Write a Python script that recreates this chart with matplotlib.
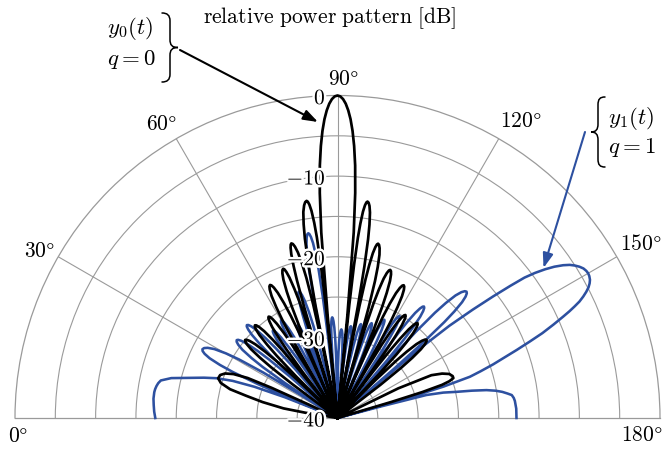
import numpy as np
import matplotlib
matplotlib.use("Agg")
import matplotlib.pyplot as plt
import matplotlib.patheffects as pe
from matplotlib.path import Path
from matplotlib.patches import PathPatch

plt.rcParams['mathtext.fontset'] = 'cm'
plt.rcParams['font.family'] = ['DejaVu Serif']

# ---------------- data ----------------
# y0(t), q = 0 : angle [deg], relative power [dB]
black_theta = [0, 8.5,
    9.3, 10.1, 12.0, 13.7, 15.0, 16.7, 18.4, 20.1, 21.6, 22.9, 24.0, 24.6, 25.0, 25.2,
    36.0, 36.84, 37.39, 37.89, 38.52, 39.15, 39.70, 40.2, 40.70, 41.25, 41.88, 42.51, 43.01, 43.56, 44.4,
    45.18, 45.69, 46.16, 46.74, 47.33, 47.83, 48.3, 48.76, 49.25, 49.82, 50.39, 50.85, 51.34, 52.1,
    52.84, 53.32, 53.77, 54.32, 54.88, 55.36, 55.8, 56.23, 56.7, 57.24, 57.78, 58.21, 58.68, 59.4,
    59.77, 60.14, 60.62, 61.07, 61.62, 62.18, 62.66, 63.1, 63.52, 63.98, 64.5, 65.03, 65.45, 65.9, 66.25, 66.6,
    66.94, 67.28, 67.72, 68.13, 68.64, 69.15, 69.59, 70.0, 70.34, 70.7, 71.12, 71.54, 71.88, 72.24, 72.52, 72.8,
    73.04, 73.28, 73.59, 73.88, 74.24, 74.6, 74.91, 75.2, 75.61, 76.05, 76.56, 77.07, 77.48, 77.92, 78.26, 78.6,
    78.93, 79.26, 79.69, 80.09, 80.58, 81.08, 81.5, 81.9, 82.18, 82.49, 82.84, 83.2, 83.48, 83.79, 84.02, 84.26,
    84.5, 85.0, 85.5, 86.0, 86.5, 87.0, 87.5, 88.0, 88.5, 89.0, 89.5, 90.0,
    90.5, 91.0, 91.5, 92.0, 92.5, 93.0, 93.5, 94.0, 94.5, 95.0, 95.5, 95.74,
    95.96, 96.17, 96.45, 96.71, 97.04, 97.36, 97.64, 97.9, 98.22, 98.58, 98.98, 99.39, 99.71, 100.06, 100.33, 100.6,
    100.85, 101.1, 101.43, 101.73, 102.1, 102.48, 102.8, 103.1, 103.5, 103.93, 104.42, 104.92, 105.31, 105.74, 106.07, 106.4,
    106.72, 107.04, 107.46, 107.84, 108.32, 108.8, 109.22, 109.6, 110.01, 110.45, 110.96, 111.47, 111.88, 112.32, 112.66, 113.0,
    113.35, 113.7, 114.16, 114.58, 115.1, 115.63, 116.08, 116.5, 116.92, 117.38, 117.9, 118.43, 118.85, 119.3, 119.65, 120.0,
    120.68, 121.12, 121.53, 122.04, 122.55, 122.99, 123.4, 123.81, 124.25, 124.76, 125.27, 125.68, 126.12, 126.8,
    127.46, 127.89, 128.29, 128.78, 129.28, 129.7, 130.1, 130.59, 131.13, 131.74, 132.36, 132.85, 133.38, 134.2,
    135.1, 135.69, 136.23, 136.9, 137.58, 138.16, 138.7, 139.24, 139.83, 140.5, 141.18, 141.72, 142.3, 143.2,
    153.3, 154.0, 155.5, 157.0, 158.5, 160.0, 161.0, 161.8, 162.4, 163.0, 163.4, 163.7,
    180.0]
black_db = [-40, -40,
    -36.0, -33.2, -30.5, -28.3, -26.2, -24.9, -24.4, -24.5, -25.0, -26.0, -27.8, -31.0, -36.0, -40,
    -40, -33.0, -29.6, -27.8, -26.3, -25.5, -25.12, -25.0, -25.12, -25.5, -26.3, -27.8, -29.6, -33.0, -40,
    -32.6, -29.2, -27.4, -25.9, -25.1, -24.72, -24.6, -24.72, -25.1, -25.9, -27.4, -29.2, -32.6, -40,
    -32.8, -29.4, -27.6, -26.1, -25.3, -24.92, -24.8, -24.92, -25.3, -26.1, -27.6, -29.4, -32.8, -40,
    -34.5, -29.5, -26.1, -24.3, -22.8, -22.0, -21.62, -21.5, -21.62, -22.0, -22.8, -24.3, -26.1, -29.5, -34.5, -40,
    -33.3, -28.3, -24.9, -23.1, -21.6, -20.8, -20.42, -20.3, -20.42, -20.8, -21.6, -23.1, -24.9, -28.3, -33.3, -40,
    -30.6, -25.6, -22.2, -20.4, -18.9, -18.1, -17.72, -17.6, -17.72, -18.1, -18.9, -20.4, -22.2, -25.6, -30.6, -40,
    -25.8, -20.8, -17.4, -15.6, -14.1, -13.3, -12.92, -12.8, -12.92, -13.3, -14.1, -15.6, -17.4, -20.8, -25.8, -40,
    -27.3, -16.9, -12.0, -8.6, -6.2, -4.34, -2.9, -1.82, -1.0, -0.44, -0.11, 0.0,
    -0.11, -0.44, -1.0, -1.82, -2.9, -4.34, -6.2, -8.6, -12.0, -16.9, -27.3, -40,
    -25.9, -20.9, -17.5, -15.7, -14.2, -13.4, -13.02, -12.9, -13.02, -13.4, -14.2, -15.7, -17.5, -20.9, -25.9, -40,
    -30.8, -25.8, -22.4, -20.6, -19.1, -18.3, -17.92, -17.8, -17.92, -18.3, -19.1, -20.6, -22.4, -25.8, -30.8, -40,
    -33.5, -28.5, -25.1, -23.3, -21.8, -21.0, -20.62, -20.5, -20.62, -21.0, -21.8, -23.3, -25.1, -28.5, -33.5, -40,
    -34.6, -29.6, -26.2, -24.4, -22.9, -22.1, -21.72, -21.6, -21.72, -22.1, -22.9, -24.4, -26.2, -29.6, -34.6, -40,
    -32.7, -29.3, -27.5, -26.0, -25.2, -24.82, -24.7, -24.82, -25.2, -26.0, -27.5, -29.3, -32.7, -40,
    -32.6, -29.2, -27.4, -25.9, -25.1, -24.72, -24.6, -24.72, -25.1, -25.9, -27.4, -29.2, -32.6, -40,
    -33.3, -29.9, -28.1, -26.6, -25.8, -25.42, -25.3, -25.42, -25.8, -26.6, -28.1, -29.9, -33.3, -40,
    -40, -31.6, -27.2, -25.9, -25.1, -24.8, -24.8, -25.4, -26.4, -29.0, -33.0, -40,
    -40]

# y1(t), q = 1 : angle [deg], relative power [dB]
blue_theta = [0, 2, 4, 6, 8, 9, 10, 11, 12, 13.5, 15.2, 16.8, 18.2, 19.5, 20.6, 21.5, 22.1,
    22.59, 23.08, 23.72, 24.3, 25.04, 25.78, 26.41, 27.0, 27.67, 28.4, 29.24, 30.08, 30.75, 31.48, 32.04, 32.6,
    33.62, 34.28, 34.9, 35.66, 36.43, 37.09, 37.7, 38.2, 38.75, 39.38, 40.01, 40.51, 41.06, 41.9,
    42.66, 43.15, 43.61, 44.18, 44.75, 45.24, 45.7, 46.2, 46.75, 47.38, 48.01, 48.51, 49.06, 49.9,
    50.64, 51.12, 51.57, 52.12, 52.68, 53.16, 53.6, 54.01, 54.45, 54.96, 55.47, 55.88, 56.32, 57.0,
    57.6, 57.99, 58.35, 58.8, 59.25, 59.64, 60.0, 60.41, 60.85, 61.36, 61.87, 62.28, 62.72, 63.4,
    64.08, 64.52, 64.93, 65.44, 65.95, 66.39, 66.8, 67.18, 67.6, 68.08, 68.56, 68.94, 69.36, 70.0,
    70.3, 70.6, 70.99, 71.35, 71.8, 72.25, 72.64, 73.0, 73.42, 73.88, 74.4, 74.93, 75.35, 75.8, 76.5,
    78.2, 78.48, 78.76, 79.12, 79.46, 79.88, 80.3, 80.66, 81.0, 81.31, 81.65, 82.04, 82.43, 82.74, 83.08, 83.34, 83.6,
    84.5, 85.0, 85.33, 85.63, 86.0, 86.38, 86.7, 87.0, 87.3, 87.63, 88.0, 88.38, 88.68, 89.0, 89.5,
    90.1, 90.49, 90.85, 91.3, 91.75, 92.14, 92.5, 92.86, 93.25, 93.7, 94.15, 94.51, 94.9, 95.5,
    96.06, 96.42, 96.76, 97.18, 97.6, 97.96, 98.3, 98.65, 99.03, 99.46, 99.9, 100.24, 100.62, 101.2,
    101.76, 102.12, 102.46, 102.88, 103.3, 103.66, 104.0, 104.35, 104.73, 105.16, 105.6, 105.94, 106.32, 106.9,
    107.48, 107.86, 108.2, 108.64, 109.08, 109.45, 109.8, 110.16, 110.55, 111.0, 111.45, 111.81, 112.2, 112.8,
    113.34, 113.69, 114.02, 114.42, 114.83, 115.18, 115.5, 115.84, 116.2, 116.62, 117.04, 117.38, 117.74, 118.3,
    118.9, 119.29, 119.65, 120.1, 120.55, 120.94, 121.3, 121.68, 122.1, 122.58, 123.06, 123.44, 123.86, 124.5,
    124.83, 125.16, 125.59, 125.99, 126.48, 126.98, 127.4, 127.8, 128.23, 128.7, 129.24, 129.78, 130.21, 130.68, 131.04, 131.4,
    131.82, 132.24, 132.79, 133.29, 133.92, 134.55, 135.1, 135.6, 136.04, 136.53, 137.08, 137.64, 138.08, 138.56, 138.93, 139.3,
    139.8, 140.5, 141.3, 142.0, 142.6, 143.1, 143.7, 144.4, 145.1, 145.9, 146.6, 147.3, 148.0, 148.7, 149.4, 150.0,
    150.6, 151.3, 151.9, 152.5, 153.1, 153.7, 154.3, 154.8, 155.3, 155.8, 156.6, 157.5, 158.3, 159.2, 160.1, 161.0,
    161.9, 162.7, 163.5, 164.1, 164.6,
    165.1, 165.5, 166.5, 167.6, 168.5, 169.4, 170.2, 171.0, 171.8, 172.5, 173.5, 174.5, 177.0, 180.0]
blue_db = [-17.4, -17.25, -17.15, -17.05, -17.05, -17.1, -17.2, -17.35, -17.6, -18.8, -21.0, -22.7, -24.2, -26.2, -29.0, -33.0, -40,
    -34.2, -29.2, -25.8, -24.0, -22.5, -21.7, -21.32, -21.2, -21.32, -21.7, -22.5, -24.0, -25.8, -29.2, -34.2, -40,
    -32.2, -28.8, -27.0, -25.5, -24.7, -24.32, -24.2, -24.32, -24.7, -25.5, -27.0, -28.8, -32.2, -40,
    -31.9, -28.5, -26.7, -25.2, -24.4, -24.02, -23.9, -24.02, -24.4, -25.2, -26.7, -28.5, -31.9, -40,
    -34.5, -31.1, -29.3, -27.8, -27.0, -26.62, -26.5, -26.62, -27.0, -27.8, -29.3, -31.1, -34.5, -40,
    -34.0, -30.6, -28.8, -27.3, -26.5, -26.12, -26.0, -26.12, -26.5, -27.3, -28.8, -30.6, -34.0, -40,
    -35.5, -32.1, -30.3, -28.8, -28.0, -27.62, -27.5, -27.62, -28.0, -28.8, -30.3, -32.1, -35.5, -40,
    -36.6, -31.6, -28.2, -26.4, -24.9, -24.1, -23.72, -23.6, -23.72, -24.1, -24.9, -26.4, -28.2, -31.6, -40,
    -40, -29.8, -24.8, -21.4, -19.6, -18.1, -17.3, -16.92, -16.8, -16.92, -17.3, -18.1, -19.6, -21.4, -24.8, -29.8, -40,
    -40, -35.5, -32.1, -30.3, -28.8, -28.0, -27.62, -27.5, -27.62, -28.0, -28.8, -30.3, -32.1, -35.5, -40,
    -37.0, -33.6, -31.8, -30.3, -29.5, -29.12, -29.0, -29.12, -29.5, -30.3, -31.8, -33.6, -37.0, -40,
    -36.5, -33.1, -31.3, -29.8, -29.0, -28.62, -28.5, -28.62, -29.0, -29.8, -31.3, -33.1, -36.5, -40,
    -36.0, -32.6, -30.8, -29.3, -28.5, -28.12, -28.0, -28.12, -28.5, -29.3, -30.8, -32.6, -36.0, -40,
    -35.5, -32.1, -30.3, -28.8, -28.0, -27.62, -27.5, -27.62, -28.0, -28.8, -30.3, -32.1, -35.5, -40,
    -34.5, -31.1, -29.3, -27.8, -27.0, -26.62, -26.5, -26.62, -27.0, -27.8, -29.3, -31.1, -34.5, -40,
    -33.2, -29.8, -28.0, -26.5, -25.7, -25.32, -25.2, -25.32, -25.7, -26.5, -28.0, -29.8, -33.2, -40,
    -35.5, -30.5, -27.1, -25.3, -23.8, -23.0, -22.62, -22.5, -22.62, -23.0, -23.8, -25.3, -27.1, -30.5, -35.5, -40,
    -30.6, -25.6, -22.2, -20.4, -18.9, -18.1, -17.72, -17.6, -17.72, -18.1, -18.9, -20.4, -22.2, -25.6, -30.6, -40,
    -27.0, -22.0, -18.5, -15.5, -13.0, -11.0, -9.6, -8.3, -7.2, -6.2, -5.5, -5.0, -4.6, -4.3, -4.15, -4.1,
    -4.15, -4.3, -4.55, -4.9, -5.4, -6.0, -6.7, -7.5, -8.35, -9.3, -10.8, -12.5, -14.3, -16.2, -18.0, -19.6,
    -21.3, -22.8, -26.3, -31.0, -40,
    -34.5, -28.6, -26.5, -24.9, -23.0, -21.2, -20.1, -19.3, -18.7, -18.2, -18.0, -17.9, -17.8, -17.8]

r_ticks = [-40, -30, -20, -10, 0]
r_tick_labels = [r'$-40$', r'$-30$', r'$-20$', r'$-10$', r'$0$']
r_grid = [-35, -30, -25, -20, -15, -10, -5]
angle_ticks = [0, 30, 60, 90, 120, 150, 180]
angle_labels = [r'$0\degree$', r'$30\degree$', r'$60\degree$', r'$90\degree$',
                r'$120\degree$', r'$150\degree$', r'$180\degree$']
title_text = r'$\mathrm{relative\ power\ pattern\ [dB]}$'
q0_lines = [r'$y_0(t)$', r'$q=0$']
q1_lines = [r'$y_1(t)$', r'$q=1$']

# ---------------- styling / layout ----------------
W, H = 663, 451
BLUE = '#2d50a0'
GRID = '#9a9a9a'
FS = 15.5

fig = plt.figure(figsize=(W / 100, H / 100), dpi=100)
cx, cy, R = 337.5, 418.0, 322.5
side = 2 * R
ymid = cy - R / 2          # vertical centre of the half disc (image px)
ax = fig.add_axes([(cx - R) / W, (H - (ymid + R)) / H, side / W, side / H],
                  projection='polar')
ax.set_thetamin(0)
ax.set_thetamax(180)
ax.set_theta_zero_location('W')
ax.set_theta_direction(-1)
ax.set_rlim(-40, 0)
ax.set_yticks(r_grid)
ax.set_yticklabels([])
ax.set_xticks(np.deg2rad(angle_ticks[1:-1]))
ax.set_xticklabels([])
ax.tick_params(axis='both', length=0)
ax.grid(True, color=GRID, lw=0.8)
for sp in ax.spines.values():
    sp.set_color(GRID)
    sp.set_linewidth(0.9)

ax.plot(np.deg2rad(blue_theta), blue_db, color=BLUE, lw=1.85,
        solid_joinstyle='round', clip_on=False, zorder=3)
ax.plot(np.deg2rad(black_theta), black_db, color='black', lw=1.95,
        solid_joinstyle='round', clip_on=False, zorder=4)

halo = [pe.withStroke(linewidth=3.5, foreground='white')]
for r, lab in zip(r_ticks, r_tick_labels):
    ax.annotate(lab, xy=(np.pi / 2, r), xytext=(-11.5, -2.5), textcoords='offset pixels',
                ha='right', va='center', fontsize=FS, zorder=6, path_effects=halo,
                annotation_clip=False)

offs = [(3, -18), (-19, 6), (-15, 15), (5.5, 16.5), (22, 18), (24, 13), (-18, -17)]
for a, lab, o in zip(angle_ticks, angle_labels, offs):
    ax.annotate(lab, xy=(np.deg2rad(a), 0), xytext=o, textcoords='offset pixels',
                ha='center', va='center', fontsize=FS, annotation_clip=False)


def px(x, y):
    return (x / W, 1 - y / H)


fig.text(*px(330, 18), title_text, ha='center', va='center', fontsize=FS)

FS_A = 16.5
fig.text(*px(107, 34), q0_lines[0], ha='left', va='baseline', fontsize=FS_A)
fig.text(*px(107, 65), q0_lines[1], ha='left', va='baseline', fontsize=FS_A)
fig.text(*px(608, 124), q1_lines[0], ha='left', va='baseline', fontsize=FS_A)
fig.text(*px(608, 153), q1_lines[1], ha='left', va='baseline', fontsize=FS_A)


def brace(x_end, x_tip, y_top, y_bot):
    xb = (x_end + x_tip) / 2.0
    ym = (y_top + y_bot) / 2.0
    s = 1 if x_tip > x_end else -1
    pts = [(x_end, y_top),
           (x_end + s * 5, y_top), (xb, y_top + 2), (xb, y_top + 8),
           (xb, ym - 8),
           (xb, ym - 2.5), (xb + s * 2, ym), (x_tip, ym),
           (xb + s * 2, ym), (xb, ym + 2.5), (xb, ym + 8),
           (xb, y_bot - 8),
           (xb, y_bot - 2), (x_end + s * 5, y_bot), (x_end, y_bot)]
    codes = [Path.MOVETO, Path.CURVE4, Path.CURVE4, Path.CURVE4, Path.LINETO,
             Path.CURVE4, Path.CURVE4, Path.CURVE4, Path.CURVE4, Path.CURVE4, Path.CURVE4,
             Path.LINETO, Path.CURVE4, Path.CURVE4, Path.CURVE4]
    path = Path([px(*p) for p in pts], codes)
    fig.add_artist(PathPatch(path, transform=fig.transFigure, fill=False,
                             lw=1.1, edgecolor='black', capstyle='round'))


brace(162, 178, 13, 82)
brace(605, 591, 97, 167)

ax.annotate('', xy=(318, H - 122), xycoords='figure pixels',
            xytext=(180, H - 50), textcoords='figure pixels',
            arrowprops=dict(arrowstyle='-|>,head_length=0.8,head_width=0.28',
                            color='black', lw=1.5, shrinkA=0, shrinkB=0,
                            mutation_scale=11), annotation_clip=False)
ax.annotate('', xy=(543.5, H - 268), xycoords='figure pixels',
            xytext=(585, H - 132), textcoords='figure pixels',
            arrowprops=dict(arrowstyle='-|>,head_length=0.8,head_width=0.28',
                            color=BLUE, lw=1.5, shrinkA=0, shrinkB=0,
                            mutation_scale=11), annotation_clip=False)

fig.savefig('out.png', dpi=100)
